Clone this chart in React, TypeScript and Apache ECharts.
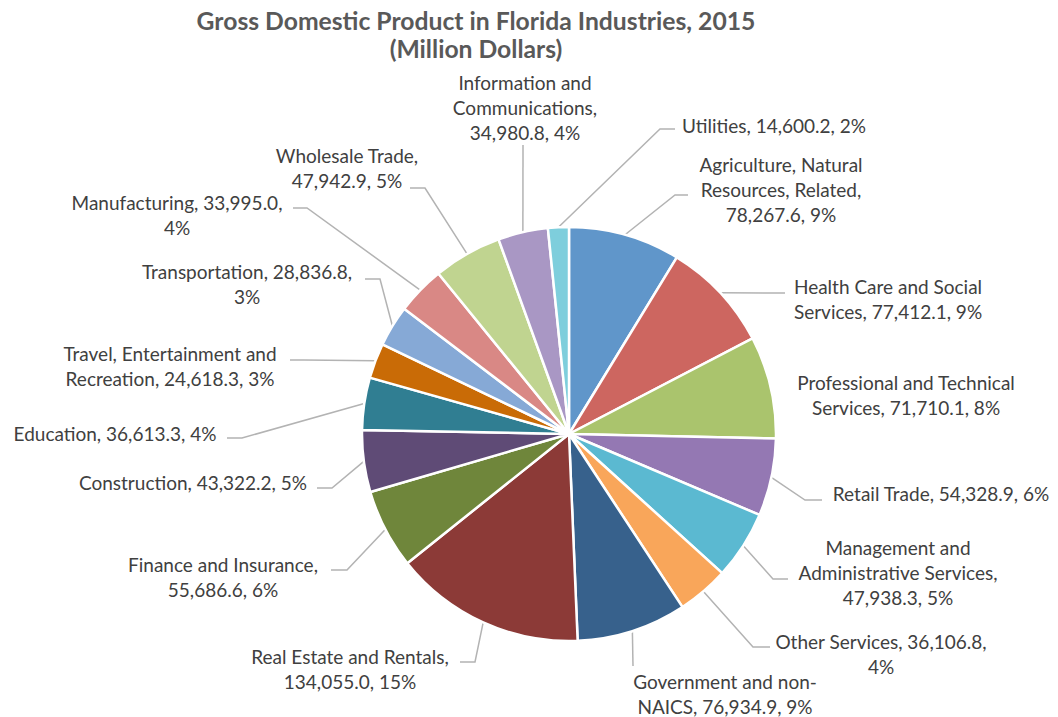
import React, { useEffect, useRef } from 'react';
import * as echarts from 'echarts';

const CATEGORIES = [
  'Agriculture, Natural Resources, Related',
  'Health Care and Social Services',
  'Professional and Technical Services',
  'Retail Trade',
  'Management and Administrative Services',
  'Other Services',
  'Government and non-NAICS',
  'Real Estate and Rentals',
  'Finance and Insurance',
  'Construction',
  'Education',
  'Travel, Entertainment and Recreation',
  'Transportation',
  'Manufacturing',
  'Wholesale Trade',
  'Information and Communications',
  'Utilities',
];

const VALUES = [
  78267.6, 77412.1, 71710.1, 54328.9, 47938.3, 36106.8, 76934.9, 134055.0,
  55686.6, 43322.2, 36613.3, 24618.3, 28836.8, 33995.0, 47942.9, 34980.8, 14600.2,
];

const COLORS = [
  '#6096ca', '#cd6660', '#aac46d', '#9478b3', '#5bb9d1', '#f9a65a', '#37618c',
  '#8c3a37', '#6f863b', '#5f4b76', '#307e92', '#c96b06', '#86a9d6', '#d98885',
  '#c0d490', '#a997c4', '#7ecedc',
];

// token indices after which the label wraps to a new line
const LABEL_BREAKS: number[][] = [
  [1, 3], [3], [2], [], [1, 3], [2], [2], [3], [2], [], [], [2], [1], [1], [1], [1, 2], [],
];

// label centres (px)
const LABEL_CENTERS: number[][] = [
  [781, 189], [888, 299], [906, 395], [941, 493], [898, 572], [881, 654], [725, 694],
  [350, 669], [223, 577], [193, 482], [115, 433], [170, 366], [247, 284], [177, 215],
  [347, 168], [525, 107], [774, 125],
];

// leader line: [elbowX, elbowY, endX, endY]; null = no leader line
const LINE_ENDS: (number[] | null)[] = [
  [675, 195, 688, 195],
  [771, 293, 785, 293],
  null,
  [805, 500, 822, 500],
  [773, 579, 788, 579],
  [753, 647, 770, 647],
  [633, 666, 633, 666],
  [475, 662, 460, 662],
  [347, 570, 331, 570],
  [332, 488, 317, 488],
  [242, 438, 227, 438],
  [304, 360, 290, 360],
  [380, 279, 365, 279],
  [307, 208, 293, 208],
  [425, 188, 410, 188],
  [523, 145, 523, 145],
  [660, 129, 675, 129],
];

const TITLE = 'Gross Domestic Product in Florida Industries, 2015\n(Million Dollars)';

const TOTAL = VALUES.reduce((a, b) => a + b, 0);

function labelText(i: number): string {
  const v = VALUES[i].toLocaleString('en-US', { minimumFractionDigits: 1, maximumFractionDigits: 1 });
  const p = Math.round((VALUES[i] / TOTAL) * 100);
  const full = `${CATEGORIES[i]}, ${v}, ${p}%`;
  const tokens = full.split(/(?<=[ -])/);
  const lines: string[] = [];
  let cur = '';
  tokens.forEach((t, k) => {
    cur += t;
    if (LABEL_BREAKS[i].includes(k)) {
      lines.push(cur.trimEnd());
      cur = '';
    }
  });
  if (cur) lines.push(cur.trimEnd());
  return lines.join('\n');
}

export default function App() {
  const ref = useRef<HTMLDivElement>(null);
  useEffect(() => {
    if (!ref.current) return;
    const chart = echarts.init(ref.current, undefined, { renderer: 'svg' });
    chart.setOption({
      animation: false,
      backgroundColor: '#ffffff',
      graphic: [
        {
          type: 'text',
          x: 476,
          y: 34,
          style: {
            text: TITLE,
            align: 'center',
            verticalAlign: 'middle',
            font: 'bold 24.7px Lato',
            lineHeight: 28,
            fill: '#595959',
          },
        },
      ],
      series: [
        {
          type: 'pie',
          center: [569, 434],
          radius: 207,
          startAngle: 90,
          clockwise: true,
          avoidLabelOverlap: false,
          itemStyle: { borderColor: '#ffffff', borderWidth: 2.5 },
          emphasis: { disabled: true },
          label: {
            show: true,
            position: 'outside',
            formatter: (p: any) => labelText(p.dataIndex),
            fontFamily: 'Lato',
            fontSize: 19,
            lineHeight: 25,
            color: '#404040',
            width: 400,
            overflow: 'none',
            align: 'center',
          },
          labelLine: {
            show: true,
            length: 10,
            length2: 10,
            lineStyle: { color: '#b3b3b3', width: 1.5 },
          },
          labelLayout: (params: any) => {
            const i = params.dataIndex;
            const c = LABEL_CENTERS[i];
            const out: any = { x: c[0], y: c[1], align: 'center', verticalAlign: 'middle' };
            const le = LINE_ENDS[i];
            const pts = params.labelLinePoints;
            if (le && pts && pts.length) {
              out.labelLinePoints = [
                [pts[0][0], pts[0][1]],
                [le[0], le[1]],
                [le[2], le[3]],
              ];
            }
            return out;
          },
          data: CATEGORIES.map((name, i) => ({
            name,
            value: VALUES[i],
            itemStyle: { color: COLORS[i] },
            labelLine: LINE_ENDS[i] ? undefined : { show: false },
          })),
        },
      ],
    });
    return () => chart.dispose();
  }, []);
  return (
    <div
      ref={ref}
      style={{ position: 'absolute', left: 0, top: 0, width: 1058, height: 717 }}
    />
  );
}
